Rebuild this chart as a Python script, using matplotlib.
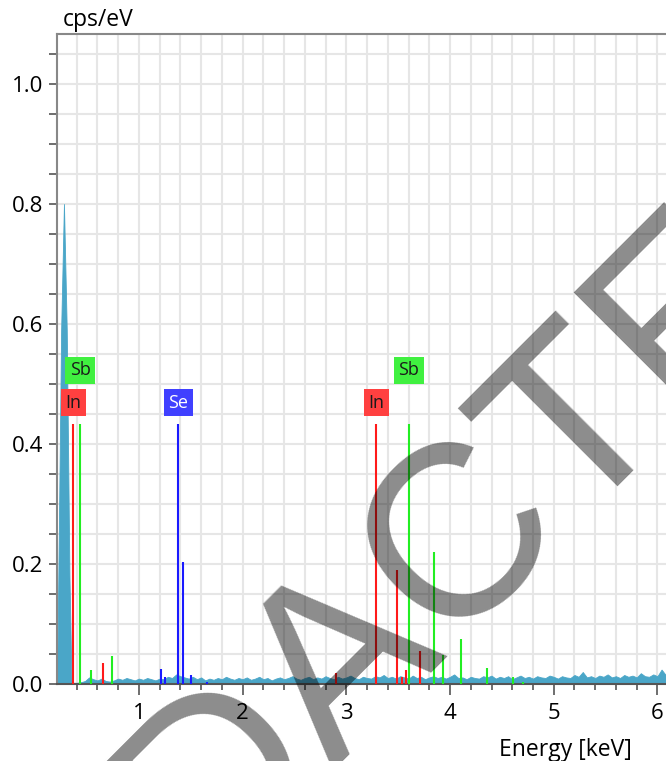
import matplotlib.pyplot as plt
from matplotlib.ticker import MultipleLocator
import numpy as np

# Main low-energy peak
peak_energy = [0.20, 0.215, 0.25, 0.277, 0.304, 0.33, 0.35]
peak_counts = [0.0, 0.06, 0.59, 0.80, 0.59, 0.18, 0.003]

# Background counts, one value per 0.04 keV channel starting at 0.36 keV
bg_start = 0.36
bg_step = 0.04
bg_counts = [
    0.002, 0.002, 0.003, 0.005, 0.011, 0.008, 0.006, 0.009, 0.005, 0.004,
    0.006, 0.009, 0.007, 0.010, 0.008, 0.006, 0.009, 0.007, 0.010, 0.008,
    0.006, 0.009, 0.008, 0.012, 0.010, 0.016, 0.013, 0.011, 0.009, 0.012,
    0.008, 0.011, 0.006, 0.009, 0.007, 0.010, 0.008, 0.012, 0.009, 0.007,
    0.010, 0.008, 0.011, 0.007, 0.009, 0.012, 0.008, 0.010, 0.006, 0.009,
    0.011, 0.008, 0.010, 0.013, 0.009, 0.007, 0.010, 0.012, 0.008, 0.011,
    0.009, 0.013, 0.010, 0.008, 0.012, 0.009, 0.011, 0.014, 0.010, 0.008,
    0.012, 0.010, 0.009, 0.013, 0.011, 0.015, 0.010, 0.012, 0.009, 0.013,
    0.011, 0.009, 0.014, 0.010, 0.012, 0.008, 0.011, 0.013, 0.010, 0.012,
    0.009, 0.012, 0.016, 0.010, 0.011, 0.008, 0.012, 0.010, 0.009, 0.013,
    0.011, 0.014, 0.009, 0.012, 0.010, 0.013, 0.008, 0.011, 0.014, 0.010,
    0.012, 0.009, 0.013, 0.011, 0.010, 0.014, 0.012, 0.009, 0.013, 0.011,
    0.010, 0.015, 0.012, 0.020, 0.011, 0.013, 0.010, 0.014, 0.012, 0.016,
    0.011, 0.013, 0.010, 0.015, 0.012, 0.014, 0.011, 0.018, 0.013, 0.012,
    0.016, 0.013, 0.024, 0.015, 0.018, 0.014, 0.017, 0.015, 0.019, 0.016,
]

# Element marker lines (keV, height)
in_lines = [0.367, 0.654, 2.904, 3.287, 3.492, 3.534, 3.575, 3.714]
in_heights = [0.433, 0.035, 0.018, 0.433, 0.19, 0.012, 0.023, 0.055]
sb_lines = [0.432, 0.538, 0.740, 3.604, 3.843, 3.935, 4.106, 4.354, 4.607, 4.700]
sb_heights = [0.433, 0.023, 0.047, 0.433, 0.22, 0.048, 0.075, 0.026, 0.012, 0.004]
se_lines = [1.213, 1.248, 1.379, 1.422, 1.499, 1.654]
se_heights = [0.025, 0.011, 0.433, 0.203, 0.015, 0.004]

# Element label boxes: (text, energy, level, face colour, text colour)
labels = [
    ("In", 0.367, 0.469, "#ff4040", "#1a1a1a"),
    ("Sb", 0.432, 0.5225, "#40f040", "#1a1a1a"),
    ("Se", 1.379, 0.469, "#4040ff", "white"),
    ("In", 3.287, 0.469, "#ff4040", "#1a1a1a"),
    ("Sb", 3.604, 0.5225, "#40f040", "#1a1a1a"),
]

plt.rcParams['font.family'] = ['Open Sans', 'DejaVu Sans']

fig = plt.figure(figsize=(6.66, 7.61), dpi=100)
ax = fig.add_axes([57 / 666, 77 / 761, 633 / 666, 650 / 761])

bg_energy = bg_start + bg_step * np.arange(len(bg_counts))
energy = np.concatenate([peak_energy, bg_energy])
counts = np.concatenate([peak_counts, bg_counts])

ax.fill_between(energy, 0, counts, color='#4aa6c8', lw=0.6, zorder=2)
ax.vlines(in_lines, 0, in_heights, color='#ff1a1a', lw=1.5, zorder=3)
ax.vlines(sb_lines, 0, sb_heights, color='#22ee22', lw=1.5, zorder=3)
ax.vlines(se_lines, 0, se_heights, color='#1a1aff', lw=1.5, zorder=3)

for text, x, y, fc, tc in labels:
    ax.text(x, y, text, ha='center', va='center', fontsize=13, color=tc,
            bbox=dict(boxstyle='square,pad=0.25', fc=fc, ec='none'), zorder=4)

ax.set_xlim(0.21, 0.21 + 633 / 103.7)
ax.set_ylim(0, 1.0833)

ax.xaxis.set_major_locator(MultipleLocator(1))
ax.xaxis.set_minor_locator(MultipleLocator(0.2))
ax.yaxis.set_major_locator(MultipleLocator(0.2))
ax.yaxis.set_minor_locator(MultipleLocator(0.05))
ax.yaxis.set_major_formatter(lambda v, p: f"{v:.1f}")

ax.grid(True, which='both', color='#e6e6e6', lw=1.5)
ax.set_axisbelow(True)

ax.tick_params(axis='x', which='major', length=8, width=1.2, color='#555555',
               labelsize=16, pad=6)
ax.tick_params(axis='x', which='minor', length=4, width=1.2, color='#555555')
ax.tick_params(axis='y', which='both', length=6, width=1.2, color='#555555',
               labelsize=16, pad=4)

for side in ['left', 'top']:
    ax.spines[side].set_color('#888888')
    ax.spines[side].set_linewidth(1.5)
ax.spines['bottom'].set_color('#555555')
ax.spines['bottom'].set_linewidth(1.5)

fig.text(63 / 666, 1 - 26 / 761, "cps/eV", fontsize=16.5, va='baseline', ha='left')
fig.text(632 / 666, 1 - 756 / 761, "Energy [keV]", fontsize=16.5, va='baseline', ha='right')

fig.text(438 / 666, 1 - 646 / 761, "REDACTED", rotation=45, rotation_mode='anchor',
         ha='center', va='baseline', fontsize=176, family='Liberation Sans',
         color='black', alpha=0.45, zorder=10)

fig.savefig('out.png', dpi=100)
